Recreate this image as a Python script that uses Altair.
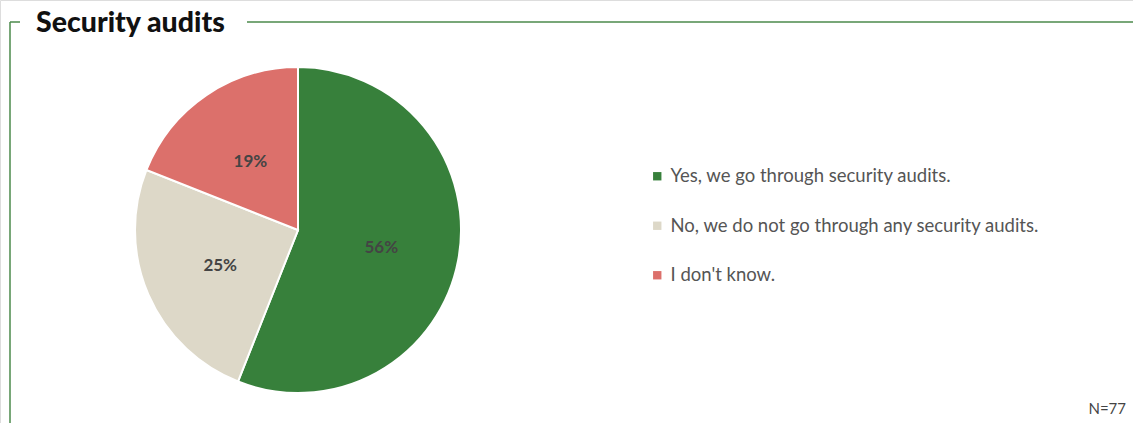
import altair as alt
import pandas as pd

categories = ["Yes, we go through security audits.",
              "No, we do not go through any security audits.",
              "I don't know."]
values = [56, 25, 19]
labels = ["56%", "25%", "19%"]
colors = ["#37803b", "#ddd8c8", "#dc706b"]

df = pd.DataFrame({"category": categories, "value": values, "label": labels, "order": [0, 1, 2]})

W, H = 1133, 423
CX, CY, R = 298, 230, 163
FRAME = "#4b8a4b"

base = alt.Chart(df).encode(
    theta=alt.Theta("value:Q", stack=True),
    order=alt.Order("order:Q"),
)

pie = base.mark_arc(outerRadius=R, stroke="white", strokeWidth=2).encode(
    x=alt.value(CX), y=alt.value(CY),
    color=alt.Color("category:N", sort=categories,
                    scale=alt.Scale(domain=categories, range=colors),
                    legend=alt.Legend(title=None, orient="none", legendX=648, legendY=167,
                                      symbolType="square", symbolSize=70, symbolStrokeWidth=0,
                                      labelFontSize=18.5, labelFont="Lato", labelColor="#555555",
                                      labelLimit=0, rowPadding=30.5, labelOffset=4)),
)

text = base.mark_text(radius=R * 0.52, font="Lato", fontSize=17, fontWeight="bold", color="#444444").encode(
    x=alt.value(CX), y=alt.value(CY + 2),
    text="label:N",
)

lines_df = pd.DataFrame({"x": [10, 10, 247], "x2": [10, 20, W], "y": [22, 22, 22], "y2": [H, 22, 22]})
frame = alt.Chart(lines_df).mark_rule(color=FRAME, strokeWidth=1.5).encode(
    x=alt.X("x:Q", scale=alt.Scale(domain=[0, W], range=[0, W]), axis=None),
    x2="x2:Q",
    y=alt.Y("y:Q", scale=alt.Scale(domain=[0, H], range=[0, H]), axis=None),
    y2="y2:Q",
)

title = alt.Chart(pd.DataFrame({"t": ["Security audits"]})).mark_text(
    align="left", baseline="middle", font="Lato", fontSize=28.5, fontWeight=900, color="#111111"
).encode(x=alt.value(36), y=alt.value(23), text="t:N")

nlab = alt.Chart(pd.DataFrame({"t": ["N=77"]})).mark_text(
    align="right", baseline="middle", font="Lato", fontSize=15, color="#444444"
).encode(x=alt.value(1126), y=alt.value(409), text="t:N")

chart = alt.layer(frame, pie, text, title, nlab).properties(
    width=W, height=H, padding=0, autosize=alt.AutoSizeParams(type="none")
).configure_view(stroke=None).configure(background="white")

chart.save("out.html", embed_options={"renderer": "svg", "actions": False})
